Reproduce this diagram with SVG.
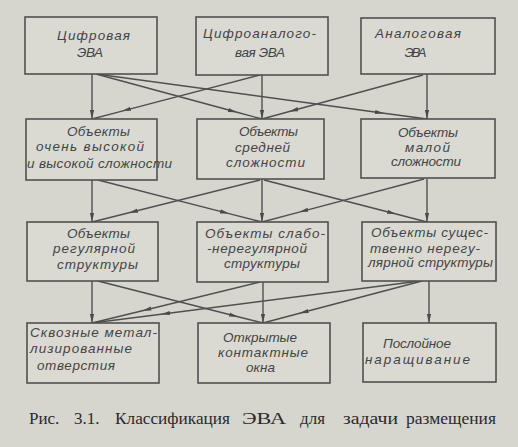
<svg xmlns="http://www.w3.org/2000/svg" width="518" height="447" viewBox="0 0 518 447">
<defs>
<marker id="ah" markerUnits="userSpaceOnUse" markerWidth="10" markerHeight="6" refX="9" refY="2.5" orient="auto" viewBox="0 0 10 5">
<path d="M0,0.4 L9,2.5 L0,4.6 z" fill="#4a4a4a"/>
</marker>
<style>
.bx{fill:#dadad3;stroke:#505050;stroke-width:1.6}
.t{font-family:"Liberation Sans",Arial,sans-serif;font-style:italic;font-size:13.5px;fill:#444;text-anchor:middle}
.c{font-family:"Liberation Serif","Times New Roman",serif;font-size:17px;fill:#2a2a2a}
.ln{fill:none;stroke:#4f4f4f;stroke-width:1.4}
.v{marker-end:url(#ah)}
.d{marker-mid:url(#ah)}
</style>
</defs>
<rect width="518" height="447" fill="#d6d6cf"/>
<g id="connectors" class="ln">
<path class="v" d="M92,74 L92,119"/>
<path class="d" d="M96,74 L237,112.3 L262,119"/>
<path class="d" d="M96,74 L384,113.2 L427,119"/>
<path class="d" d="M260,75 L122,111.1 L92,119"/>
<path class="v" d="M262,75 L262,119"/>
<path class="d" d="M423,75 L289.4,111.5 L262,119"/>
<path class="v" d="M427,74 L427,119"/>
<path class="v" d="M92,180 L92,222"/>
<path class="d" d="M98,180 L229,213.6 L262,222"/>
<path class="d" d="M260,180 L129,212.8 L92,222"/>
<path class="v" d="M262,179 L262,222"/>
<path class="d" d="M264,180 L396,214 L427,222"/>
<path class="d" d="M424,179 L299.3,212.1 L262,222"/>
<path class="v" d="M427,179 L427,222"/>
<path class="v" d="M92,281 L92,323"/>
<path class="d" d="M98,281 L238,316.7 L263,323"/>
<path class="d" d="M260,282 L142.4,310.7 L92,323"/>
<path class="v" d="M263,282 L263,323"/>
<path class="d" d="M420,281 L161,314.2 L92,323"/>
<path class="d" d="M422,281 L299.6,313.3 L263,323"/>
<path class="v" d="M429,281 L429,323"/>
</g>
<g id="n1"><rect class="bx" x="25" y="17" width="132" height="57"/>
<text class="t" x="93.5" y="40" textLength="73">Цифровая</text>
<text class="t" x="90" y="57" textLength="26">ЭВА</text></g>
<g id="n2"><rect class="bx" x="196" y="17" width="132" height="58"/>
<text class="t" x="259.5" y="38" textLength="113">Цифроаналого-</text>
<text class="t" x="260" y="57" textLength="50">вая ЭВА</text></g>
<g id="n3"><rect class="bx" x="361" y="18" width="134" height="56"/>
<text class="t" x="418" y="38" textLength="86">Аналоговая</text>
<text class="t" x="415.5" y="57" textLength="22">ЭВА</text></g>
<g id="n4"><rect class="bx" x="26" y="119" width="131" height="61"/>
<text class="t" x="98.5" y="136" textLength="63">Объекты</text>
<text class="t" x="90" y="151" textLength="108">очень высокой</text>
<text class="t" x="99.5" y="168" textLength="145">и высокой сложности</text></g>
<g id="n5"><rect class="bx" x="197" y="119" width="127" height="60"/>
<text class="t" x="268.5" y="136" textLength="59">Объекты</text>
<text class="t" x="262.5" y="152" textLength="55">средней</text>
<text class="t" x="265.5" y="167" textLength="79">сложности</text></g>
<g id="n6"><rect class="bx" x="361" y="119" width="134" height="59"/>
<text class="t" x="428" y="137" textLength="60">Объекты</text>
<text class="t" x="427.5" y="152" textLength="45">малой</text>
<text class="t" x="426" y="166" textLength="70">сложности</text></g>
<g id="n7"><rect class="bx" x="27" y="222" width="131" height="59"/>
<text class="t" x="98.5" y="238" textLength="63">Объекты</text>
<text class="t" x="94" y="253" textLength="82">регулярной</text>
<text class="t" x="97.5" y="269" textLength="81">структуры</text></g>
<g id="n8"><rect class="bx" x="197" y="222" width="131" height="60"/>
<text class="t" x="265" y="238" textLength="120">Объекты слабо-</text>
<text class="t" x="257" y="253" textLength="100">-нерегулярной</text>
<text class="t" x="262" y="268" textLength="76">структуры</text></g>
<g id="n9"><rect class="bx" x="362" y="222" width="134" height="59"/>
<text class="t" x="429.5" y="237" textLength="117">Объекты сущес-</text>
<text class="t" x="425" y="253" textLength="110">твенно нерегу-</text>
<text class="t" x="430.5" y="267" textLength="125">лярной структуры</text></g>
<g id="n10"><rect class="bx" x="27" y="323" width="132" height="60"/>
<text class="t" x="93.5" y="337" textLength="127">Сквозные метал-</text>
<text class="t" x="81" y="353" textLength="102">лизированные</text>
<text class="t" x="76" y="370" textLength="78">отверстия</text></g>
<g id="n11"><rect class="bx" x="198" y="323" width="132" height="60"/>
<text class="t" x="260" y="342" textLength="74">Открытые</text>
<text class="t" x="263" y="357" textLength="90">контактные</text>
<text class="t" x="260.5" y="372" textLength="29">окна</text></g>
<g id="n12"><rect class="bx" x="363" y="323" width="133" height="59"/>
<text class="t" x="417" y="348" textLength="68">Послойное</text>
<text class="t" x="417.5" y="364" textLength="105">наращивание</text></g>
<g id="caption">
<text class="c" x="29" y="424">Рис.</text>
<text class="c" x="74" y="424">3.1.</text>
<text class="c" x="115" y="424" textLength="115" lengthAdjust="spacingAndGlyphs">Классификация</text>
<text class="c" x="242" y="424" textLength="44" lengthAdjust="spacingAndGlyphs">ЭВА</text>
<text class="c" x="300" y="424">для</text>
<text class="c" x="343" y="424" textLength="55" lengthAdjust="spacingAndGlyphs">задачи</text>
<text class="c" x="406" y="424" textLength="90" lengthAdjust="spacingAndGlyphs">размещения</text>
</g>
</svg>
